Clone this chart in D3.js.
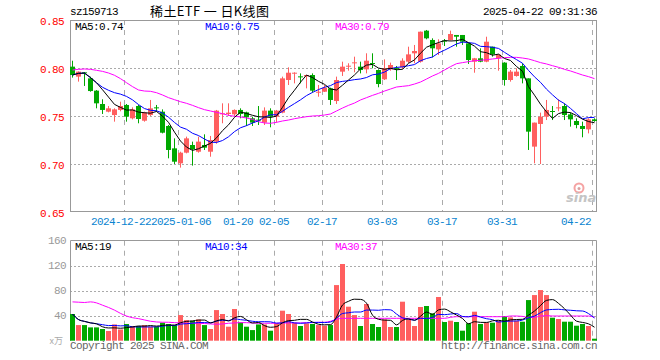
<!DOCTYPE html>
<html>
<head>
<meta charset="UTF-8">
<title>稀土ETF 日K线图</title>
<script src="https://d3js.org/d3.v7.min.js"></script>
<style>
  body { margin: 0; background: #fff; }
  text { font-family: "Liberation Mono", "DejaVu Sans Mono", monospace; font-size: 11px; letter-spacing: -0.6px; }
</style>
</head>
<body>
<svg id="chart"></svg>
<script>
// trading days shown, one candle each
const dates = [
  "2024-12-10","2024-12-11","2024-12-12","2024-12-13","2024-12-16","2024-12-17","2024-12-18","2024-12-19","2024-12-20",
  "2024-12-23","2024-12-24","2024-12-25","2024-12-26","2024-12-27","2024-12-30","2024-12-31","2025-01-02","2025-01-03",
  "2025-01-06","2025-01-07","2025-01-08","2025-01-09","2025-01-10","2025-01-13","2025-01-14","2025-01-15","2025-01-16","2025-01-17",
  "2025-01-20","2025-01-21","2025-01-22","2025-01-23","2025-01-24","2025-01-27",
  "2025-02-05","2025-02-06","2025-02-07","2025-02-10","2025-02-11","2025-02-12","2025-02-13","2025-02-14",
  "2025-02-17","2025-02-18","2025-02-19","2025-02-20","2025-02-21","2025-02-24","2025-02-25","2025-02-26","2025-02-27","2025-02-28",
  "2025-03-03","2025-03-04","2025-03-05","2025-03-06","2025-03-07","2025-03-10","2025-03-11","2025-03-12","2025-03-13","2025-03-14",
  "2025-03-17","2025-03-18","2025-03-19","2025-03-20","2025-03-21","2025-03-24","2025-03-25","2025-03-26","2025-03-27","2025-03-28",
  "2025-03-31","2025-04-01","2025-04-02","2025-04-03","2025-04-07","2025-04-08","2025-04-09","2025-04-10","2025-04-11",
  "2025-04-14","2025-04-15","2025-04-16","2025-04-17","2025-04-18","2025-04-21","2025-04-22"
];

const open = [
  0.8014,0.7910,0.7955,0.7892,0.7764,0.7625,0.7545,0.7510,0.7563,0.7615,
  0.7476,0.7604,0.7451,0.7510,0.7590,0.7545,0.7396,0.7163,0.7007,0.7118,
  0.7198,0.7128,0.7198,0.7128,0.7233,0.7524,0.7521,0.7517,0.7563,0.7538,
  0.7476,0.7462,0.7431,0.7556,0.7493,0.7535,0.7875,0.7948,0.7913,0.7913,
  0.7927,0.7750,0.7753,0.7788,0.7656,0.7962,0.8021,0.8052,0.8014,0.7986,
  0.8052,0.7979,0.7882,0.7986,0.7999,0.8007,0.8066,0.8153,0.8066,0.8389,
  0.8292,0.8194,0.8285,0.8292,0.8344,0.8344,0.8257,0.8066,0.8101,0.8066,
  0.8222,0.8101,0.8056,0.7875,0.7917,0.8021,0.7892,0.7181,0.7417,0.7493,
  0.7552,0.7587,0.7604,0.7517,0.7448,0.7396,0.7361,0.7465
];
const high = [
  0.8076,0.7965,0.7958,0.7910,0.7770,0.7674,0.7604,0.7580,0.7649,0.7625,
  0.7590,0.7615,0.7545,0.7667,0.7615,0.7569,0.7406,0.7267,0.7128,0.7285,
  0.7233,0.7285,0.7309,0.7292,0.7563,0.7632,0.7632,0.7569,0.7580,0.7545,
  0.7493,0.7604,0.7590,0.7580,0.7563,0.7910,0.8007,0.7955,0.7944,0.7930,
  0.7944,0.7823,0.7823,0.7795,0.7910,0.8066,0.8049,0.8118,0.8066,0.8153,
  0.8153,0.7986,0.8090,0.8056,0.8021,0.8101,0.8222,0.8240,0.8380,0.8396,
  0.8309,0.8299,0.8302,0.8389,0.8344,0.8344,0.8257,0.8105,0.8205,0.8326,
  0.8222,0.8142,0.8060,0.7979,0.7997,0.8049,0.7892,0.7431,0.7535,0.7667,
  0.7604,0.7674,0.7632,0.7535,0.7476,0.7441,0.7476,0.7476
];
const low = [
  0.7900,0.7858,0.7813,0.7753,0.7580,0.7521,0.7538,0.7441,0.7549,0.7441,
  0.7465,0.7424,0.7441,0.7500,0.7545,0.7319,0.7059,0.7000,0.6962,0.7111,
  0.6983,0.7118,0.7146,0.7076,0.7211,0.7424,0.7500,0.7500,0.7476,0.7396,
  0.7396,0.7406,0.7406,0.7382,0.7431,0.7528,0.7823,0.7840,0.7840,0.7788,
  0.7743,0.7701,0.7750,0.7615,0.7625,0.7917,0.7972,0.7955,0.7944,0.7944,
  0.7997,0.7799,0.7875,0.7972,0.7875,0.7990,0.8050,0.8049,0.8056,0.8299,
  0.8111,0.8135,0.8229,0.8285,0.8222,0.8240,0.8042,0.7951,0.8060,0.8060,
  0.8118,0.7972,0.7816,0.7858,0.7910,0.7840,0.7146,0.7007,0.7000,0.7458,
  0.7458,0.7549,0.7458,0.7389,0.7372,0.7278,0.7319,0.7440
];
const close = [
  0.7927,0.7962,0.7951,0.7760,0.7632,0.7563,0.7580,0.7569,0.7604,0.7493,
  0.7569,0.7469,0.7535,0.7580,0.7583,0.7326,0.7146,0.7024,0.7118,0.7267,
  0.7153,0.7233,0.7170,0.7250,0.7556,0.7528,0.7535,0.7563,0.7521,0.7486,
  0.7431,0.7458,0.7556,0.7493,0.7556,0.7892,0.7951,0.7951,0.7910,0.7927,
  0.7764,0.7753,0.7795,0.7667,0.7875,0.8014,0.8024,0.8059,0.7979,0.8076,
  0.8049,0.7833,0.7997,0.8031,0.7997,0.8076,0.8142,0.8177,0.8378,0.8309,
  0.8205,0.8257,0.8281,0.8354,0.8326,0.8274,0.8083,0.8101,0.8066,0.8274,
  0.8142,0.8139,0.7875,0.7962,0.7962,0.7892,0.7337,0.7431,0.7493,0.7563,
  0.7549,0.7590,0.7510,0.7465,0.7406,0.7365,0.7465,0.7448
];
// volume in 万 units
const volume = [
  42.7,25,25,21.3,21.3,18.7,15.5,26,18,26.7,
  23.5,23.5,25,22.4,22.4,28.8,26.7,25,41,33,
  32,34,25,18.7,49,42.7,22.4,50.7,29.3,22.4,
  17,26,26,16,27.7,48,42.7,28.8,23.5,27.7,
  26.7,25,24,25,89,122.7,54.4,41,23.5,58.7,
  26.7,21.9,34,21.9,21.9,62.4,34,23.5,53.9,55.5,
  43.7,69.9,29.9,32,29.9,16,27.7,46.4,26.7,29.3,
  28.8,32,39.5,37.3,32,30.4,65,73,81,73,
  36.8,34.7,30.4,30.4,24,26.7,23.5,3.2
];
// 30 day averages (they reach back before the first candle)
const ma30Price = [
  0.7979,0.7986,0.7990,0.7986,0.7976,0.7965,0.7948,0.7924,0.7889,0.7847,
  0.7806,0.7771,0.7760,0.7757,0.7743,0.7719,0.7691,0.7670,0.7649,0.7632,
  0.7611,0.7587,0.7566,0.7552,0.7538,0.7524,0.7507,0.7497,0.7490,0.7479,
  0.7465,0.7441,0.7427,0.7424,0.7434,0.7448,0.7458,0.7472,0.7483,0.7493,
  0.7500,0.7503,0.7510,0.7521,0.7552,0.7583,0.7611,0.7635,0.7667,0.7691,
  0.7715,0.7736,0.7760,0.7781,0.7802,0.7809,0.7816,0.7833,0.7854,0.7885,
  0.7917,0.7944,0.7979,0.8014,0.8045,0.8056,0.8066,0.8076,0.8080,0.8087,
  0.8094,0.8101,0.8108,0.8111,0.8111,0.8104,0.8094,0.8076,0.8056,0.8042,
  0.8024,0.8007,0.7986,0.7969,0.7948,0.7927,0.7910,0.7889
];
const ma30Vol = [
  62.1,61.6,61.1,62.1,60.5,56.8,53.2,48.9,43.7,39.5,
  36.8,35.3,33.2,31.1,30,29.5,29.5,28.9,28.4,27.9,
  27.9,27.9,27.4,26.8,26.3,26.8,27.9,28.4,28.9,28.9,
  28.4,27.9,27.9,27.9,27.9,28.4,28.4,28.4,28.4,28.9,
  28.9,29.5,29.5,31.1,34.2,35.8,35.8,35.8,35.8,35.8,
  35.8,35.8,35.8,35.8,35.8,35.8,35.8,35.8,35.8,35.8,
  35.8,35.8,35.8,37.4,38.4,38.4,38.4,38.4,38.4,38.4,
  38.4,38.4,38.4,39.5,39.5,38.9,37.4,37.4,39.5,40,
  39.5,39.5,39.5,39.5,39.5,39.5,39.5,37.4
];

const tickDates  = ["2024-12-23","2025-01-06","2025-01-20","2025-02-05","2025-02-17","2025-03-03","2025-03-17","2025-03-31","2025-04-22"];
const tickLabels = ["2024-12-22","2025-01-06","01-20","02-05","02-17","03-03","03-17","03-31","04-22"];
const priceTicks = [0.85, 0.80, 0.75, 0.70, 0.65];
const volTicks = [160, 120, 80, 40];

const W = 660, H = 360;
const LEFT = 70, RIGHT = 597;
const P_TOP = 20, P_BOT = 212;
const V_TOP = 240.7, V_BOT = 340.7;
const RED = "#ff5f5f", GREEN = "#00a800";
const C_MA5 = "#000", C_MA10 = "#0000ff", C_MA30 = "#ff00ff";

const svg = d3.select("#chart").attr("width", W).attr("height", H);

const x = d3.scaleBand().domain(dates).range([LEFT, RIGHT]).paddingInner(1/6).paddingOuter(0);
const bw = x.bandwidth();
const yP = d3.scaleLinear().domain([0.65, 0.85]).range([P_BOT, P_TOP]);
const yV = d3.scaleLinear().domain([0, 160]).range([V_BOT, V_TOP]);

const movingAvg = (arr, n) => arr.map((_, i) => d3.mean(arr.slice(Math.max(0, i - n + 1), i + 1)));

const bars = dates.map((d, i) => ({
  date: d, o: open[i], h: high[i], l: low[i], c: close[i], v: volume[i],
  up: close[i] >= open[i]
}));

// ---------- header ----------
svg.append("text").attr("x", LEFT).attr("y", 15).text("sz159713");
svg.append("text").attr("x", 150).attr("y", 16)
  .attr("textLength", 119).attr("lengthAdjust", "spacing")
  .style("font-family", "'Noto Sans CJK SC', sans-serif").style("font-size", "13px").style("letter-spacing", "0")
  .text("稀土ETF 一 日K线图");
svg.append("text").attr("x", RIGHT).attr("y", 15).attr("text-anchor", "end").text("2025-04-22 09:31:36");

// ---------- grids ----------
const grid = svg.append("g");
const vx = tickDates.map(d => Math.round(x(d)) + 0.5);

grid.selectAll(".hp").data([0.80, 0.75, 0.70]).join("line")
  .attr("x1", LEFT).attr("x2", RIGHT)
  .attr("y1", d => Math.round(yP(d)) + 0.5).attr("y2", d => Math.round(yP(d)) + 0.5)
  .attr("stroke", "#aaa").attr("stroke-dasharray", "2,2");
grid.selectAll(".hv").data([120, 80, 40]).join("line")
  .attr("x1", LEFT).attr("x2", RIGHT)
  .attr("y1", d => Math.round(yV(d)) + 0.5).attr("y2", d => Math.round(yV(d)) + 0.5)
  .attr("stroke", "#aaa").attr("stroke-dasharray", "2,2");

[[P_TOP, P_BOT], [V_TOP, V_BOT]].forEach(([t, b]) => {
  grid.selectAll(null).data(vx).join("line")
    .attr("x1", d => d).attr("x2", d => d).attr("y1", t).attr("y2", b)
    .attr("stroke", "#aaa").attr("stroke-dasharray", "5,5");
});

// sina watermark
const logo = svg.append("g");
logo.append("circle").attr("cx", 579).attr("cy", 188).attr("r", 4.5)
  .attr("fill", "none").attr("stroke", "#f5a3a3").attr("stroke-width", 2);
logo.append("circle").attr("cx", 579).attr("cy", 188.5).attr("r", 1.5).attr("fill", "#d9a0a0");
logo.append("text").attr("x", 566).attr("y", 202)
  .style("font-family", "'DejaVu Sans', sans-serif").style("font-size", "13px").style("letter-spacing", "0")
  .style("font-weight", "bold").style("font-style", "italic")
  .attr("fill", "#c4c4c4").text("sina");

// ---------- frames ----------
svg.append("rect").attr("x", LEFT + 0.5).attr("y", P_TOP + 0.5)
  .attr("width", RIGHT - LEFT - 1).attr("height", 191)
  .attr("fill", "none").attr("stroke", "#999");
svg.append("path")
  .attr("d", `M${LEFT + 0.5},${V_BOT} V${V_TOP - 0.2} H${RIGHT - 0.5} V${V_BOT}`)
  .attr("fill", "none").attr("stroke", "#999");

// ---------- y labels ----------
svg.selectAll(".pl").data(priceTicks).join("text")
  .attr("x", 64).attr("y", d => yP(d) + 5).attr("text-anchor", "end")
  .attr("fill", "#ff0000").text(d => d.toFixed(2));
svg.selectAll(".vl").data(volTicks).join("text")
  .attr("x", 66).attr("y", d => yV(d) + 3).attr("text-anchor", "end")
  .attr("fill", "#999").text(d => d);
svg.append("text").attr("x", 63).attr("y", 344).attr("text-anchor", "end")
  .attr("fill", "#aaa").style("font-family", "'Noto Sans CJK SC', sans-serif").style("font-size", "9px")
  .style("letter-spacing", "0").text("x万");

// ---------- x labels ----------
// the first two labels sit edge to edge in the original, nudge them apart by a hair
const xLabelPos = (d, i) => {
  if (i === 0) return x(d) - 3;
  if (i === 1) return x(d) + 3;
  if (i === tickDates.length - 1) return x(d) - 1;
  return x(d);
};
svg.selectAll(".xl").data(tickDates).join("text")
  .attr("x", xLabelPos)
  .attr("y", 225)
  .attr("text-anchor", (d, i) => i === tickDates.length - 1 ? "end" : "middle")
  .attr("fill", "#0a84d0")
  .text((d, i) => tickLabels[i]);

// ---------- candles ----------
const candles = svg.append("g").selectAll("g").data(bars).join("g");
candles.append("line")
  .attr("x1", d => x(d.date) + bw / 2).attr("x2", d => x(d.date) + bw / 2)
  .attr("y1", d => yP(d.h)).attr("y2", d => yP(d.l))
  .attr("stroke", d => d.up ? RED : GREEN);
candles.append("rect")
  .attr("x", d => x(d.date)).attr("width", bw)
  .attr("y", d => yP(Math.max(d.o, d.c)))
  .attr("height", d => Math.max(1, Math.abs(yP(d.o) - yP(d.c))))
  .attr("fill", d => d.up ? RED : GREEN);

// ---------- volume bars ----------
svg.append("g").selectAll("rect").data(bars).join("rect")
  .attr("x", d => x(d.date)).attr("width", bw)
  .attr("y", d => yV(d.v)).attr("height", d => V_BOT - yV(d.v))
  .attr("fill", d => d.up ? RED : GREEN);

// ---------- moving averages ----------
const cx = i => x(dates[i]) + bw / 2;
const priceLine = d3.line().x((d, i) => cx(i)).y(d => yP(d));
const volLine = d3.line().x((d, i) => cx(i)).y(d => yV(d)).curve(d3.curveMonotoneX);

const priceMAs = [[ma30Price, C_MA30], [movingAvg(close, 10), C_MA10], [movingAvg(close, 5), C_MA5]];
priceMAs.forEach(([s, col]) => {
  svg.append("path").datum(s).attr("d", priceLine)
    .attr("fill", "none").attr("stroke", col).attr("stroke-width", 1);
});
const volMAs = [[ma30Vol, C_MA30], [movingAvg(volume, 10), C_MA10], [movingAvg(volume, 5), C_MA5]];
volMAs.forEach(([s, col]) => {
  svg.append("path").datum(s).attr("d", volLine)
    .attr("fill", "none").attr("stroke", col).attr("stroke-width", 1);
});

// ---------- legends ----------
const legend = (y, items) => items.forEach(([tx, xx, col]) =>
  svg.append("text").attr("x", xx).attr("y", y).attr("fill", col).text(tx));
legend(30, [["MA5:0.74", 75, C_MA5], ["MA10:0.75", 205, C_MA10], ["MA30:0.79", 335, C_MA30]]);
legend(250, [["MA5:19", 75, C_MA5], ["MA10:34", 205, C_MA10], ["MA30:37", 335, C_MA30]]);

// ---------- footer ----------
svg.append("text").attr("x", LEFT).attr("y", 349).attr("fill", "#666").text("Copyright 2025 SINA.COM");
svg.append("text").attr("x", RIGHT).attr("y", 349).attr("text-anchor", "end").attr("fill", "#666")
  .text("http://finance.sina.com.cn");
</script>
</body>
</html>
